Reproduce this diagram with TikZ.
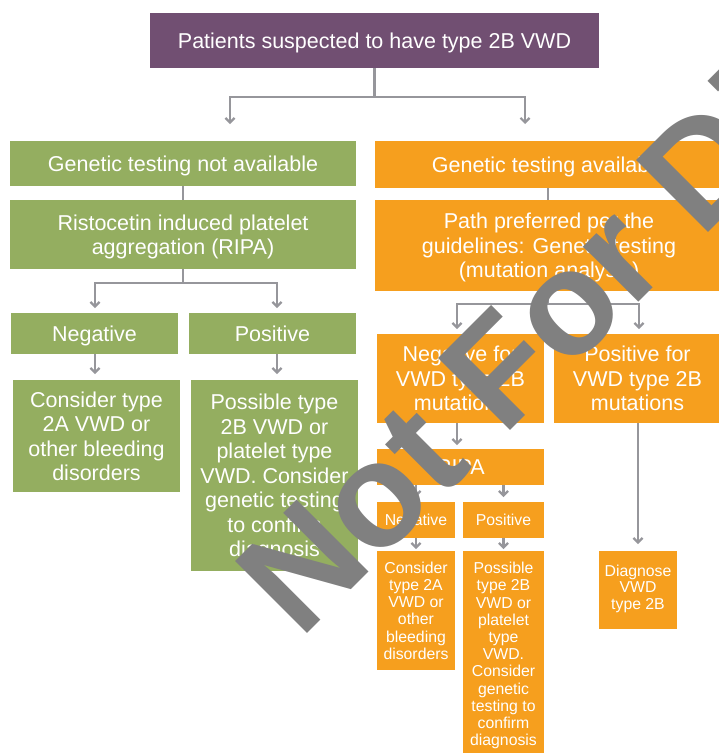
\documentclass[tikz,border=0pt]{standalone}
\usepackage{fontspec}
\setmainfont{Liberation Sans}
\usetikzlibrary{arrows.meta}
\definecolor{cpurple}{RGB}{113,79,114}
\definecolor{cgreen}{RGB}{148,174,96}
\definecolor{corange}{RGB}{246,159,30}
\definecolor{cline}{RGB}{150,150,155}
\definecolor{cwm}{RGB}{128,128,128}
\begin{document}
\begin{tikzpicture}[x=1pt,y=-1pt,
  box/.style={rectangle, inner sep=0pt, outer sep=0pt, text=white, align=center, text depth=0pt},
  bigtxt/.style={font=\fontsize{21.5}{24.5}\selectfont},
  smalltxt/.style={font=\fontsize{15.8}{17.2}\selectfont},
  gbox/.style={box, fill=cgreen},
  obox/.style={box, fill=corange},
  conn/.style={draw=cline, line width=2.2pt},
  arr/.style={conn, -{Straight Barb[length=4.5pt,width=9pt]}}
]
\useasboundingbox (0,0) rectangle (719,753);
% top
\node[box, fill=cpurple, bigtxt, minimum width=449pt, minimum height=55pt] (top) at (374.5,40.5) {Patients suspected to have type 2B VWD};
% green branch
\node[gbox, bigtxt, minimum width=346pt, minimum height=45pt] (gna) at (183,163.5) {Genetic testing not available};
\node[gbox, bigtxt, minimum width=346pt, minimum height=69pt] (ripa) at (183,234.5) {Ristocetin induced platelet\\aggregation (RIPA)};
\node[gbox, bigtxt, minimum width=167pt, minimum height=41pt] (gneg) at (94.5,333.5) {Negative};
\node[gbox, bigtxt, minimum width=167pt, minimum height=41pt] (gpos) at (272.5,333.5) {Positive};
\node[gbox, bigtxt, minimum width=167pt, minimum height=112pt] (gcons) at (96.5,436) {Consider type\\2A VWD or\\other bleeding\\disorders};
\node[gbox, bigtxt, minimum width=167pt, minimum height=191pt] (gposs) at (274.5,475.5) {Possible type\\2B VWD or\\platelet type\\VWD. Consider\\genetic testing\\to confirm\\diagnosis};
% orange branch
\node[obox, bigtxt, minimum width=348pt, minimum height=47pt] (ga) at (549,164.5) {Genetic testing available};
\node[obox, bigtxt, minimum width=348pt, minimum height=91pt] (path) at (549,245.5) {Path preferred per the\\guidelines: Genetic testing\\(mutation analysis)};
\node[obox, bigtxt, minimum width=167pt, minimum height=89pt] (oneg) at (460.5,378.5) {Negative for\\VWD type 2B\\mutations};
\node[obox, bigtxt, minimum width=167pt, minimum height=89pt] (opos) at (637.5,378.5) {Positive for\\VWD type 2B\\mutations};
\node[obox, bigtxt, minimum width=167pt, minimum height=36pt] (oripa) at (460.5,467) {RIPA};
\node[obox, smalltxt, minimum width=78pt, minimum height=36pt] (osneg) at (416,520) {Negative};
\node[obox, smalltxt, minimum width=81pt, minimum height=36pt] (ospos) at (503.5,520) {Positive};
\node[obox, smalltxt, minimum width=78pt, minimum height=119pt] (oscons) at (416,610.5) {Consider\\type 2A\\VWD or\\other\\bleeding\\disorders};
\node[obox, smalltxt, minimum width=81pt, minimum height=206pt] (osposs) at (503.5,654) {Possible\\type 2B\\VWD or\\platelet\\type\\VWD.\\Consider\\genetic\\testing to\\confirm\\diagnosis};
\node[obox, font=\fontsize{15.8}{16.5}\selectfont, text depth=6pt, minimum width=78pt, minimum height=78pt] (diag) at (638,590) {Diagnose\\VWD\\type 2B};
% free ends of the splits
\coordinate (t1) at (230,124);
\coordinate (t2) at (525,124);
\coordinate (r1) at (95,308);
\coordinate (r2) at (277,308);
\coordinate (p1) at (457,329);
\coordinate (p2) at (639,329);
% connectors
\draw[conn] (top.south) -- ++(0,29);
\draw[arr] (top.south) ++(0,29) -| (t1);
\draw[arr] (top.south) ++(0,29) -| (t2);
\draw[conn] (gna.south) -- (ripa.north);
\draw[conn] (ripa.south) -- ++(0,14);
\draw[arr] (ripa.south) ++(0,14) -| (r1);
\draw[arr] (ripa.south) ++(0,14) -| (r2);
\draw[arr] (gneg.south -| r1) -- ++(0,20);
\draw[arr] (gpos.south -| r2) -- ++(0,20);
\draw[conn] (ga.south -| 548,0) -- (path.north -| 548,0);
\draw[conn] (path.south -| 548,0) -- ++(0,13);
\draw[arr] (path.south -| 548,0) ++(0,13) -| (p1);
\draw[arr] (path.south -| 548,0) ++(0,13) -| (p2);
\draw[arr] (oneg.south -| p1) -- ++(0,22);
\draw[arr] (oripa.south -| osneg) -- ++(0,12);
\draw[arr] (oripa.south -| ospos) -- ++(0,12);
\draw[arr] (osneg.south) -- ++(0,11);
\draw[arr] (ospos.south) -- ++(0,11);
\draw[arr] (opos.south -| diag) -- ++(0,121);
% watermark
\node[font=\fontsize{148}{148}\selectfont\bfseries, text=cwm, rotate=45, anchor=base west, inner sep=0pt] (wm) at (300,641) {Not For Distribution};
\end{tikzpicture}
\end{document}
